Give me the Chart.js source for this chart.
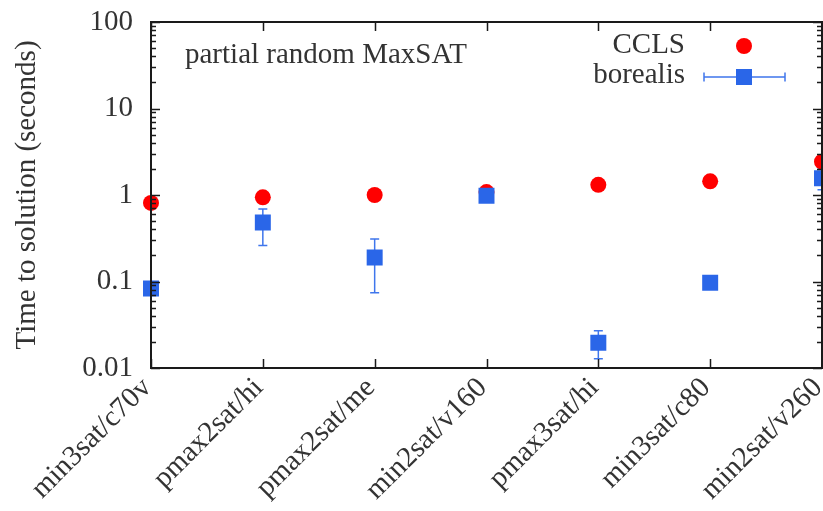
<!DOCTYPE html>
<html>
<head>
<meta charset="utf-8">
<script src="https://cdn.jsdelivr.net/npm/chart.js@4"></script>
<style>
  html, body { margin: 0; padding: 0; background: #fff; }
  #wrap { width: 823px; height: 511px; position: relative; }
</style>
</head>
<body>
<div id="wrap"><canvas id="c"></canvas></div>
<script>
const categories = ["min3sat/c70v", "pmax2sat/hi", "pmax2sat/me", "min2sat/v160", "pmax3sat/hi", "min3sat/c80", "min2sat/v260"];
const cclsTimes = [0.81, 0.94, 1.0, 1.08, 1.31, 1.44, 2.43];
const borealisTimes = [0.083, 0.48, 0.19, 0.98, 0.0196, 0.097, 1.56];
const borealisLow = [0.08, 0.26, 0.074, 0.97, 0.0128, 0.095, 1.15];
const borealisHigh = [0.087, 0.69, 0.31, 1.0, 0.027, 0.1, 2.0];
const yTickValues = [0.01, 0.1, 1, 10, 100];
const yTickLabels = ["0.01", "0.1", "1", "10", "100"];

const FONT = "'Liberation Serif', 'Times New Roman', serif";
const FONT_SIZE = 29;
const INK = "#333333";
const FRAME = "#1a1a1a";
const RED = "#ff0000";
const BLUE = "#2a66e8";
const BAR_BLUE = "#3f76ec";

// error bars behind the squares
const errorBarPlugin = {
  id: "errorBarPlugin",
  beforeDatasetsDraw(c) {
    const { ctx, scales } = c;
    const x = scales.x, y = scales.y;
    ctx.save();
    ctx.strokeStyle = BAR_BLUE;
    ctx.lineWidth = 1.5;
    borealisTimes.forEach((v, i) => {
      const px = x.getPixelForValue(i);
      const y1 = y.getPixelForValue(borealisLow[i]);
      const y2 = y.getPixelForValue(borealisHigh[i]);
      ctx.beginPath();
      ctx.moveTo(px, y1);
      ctx.lineTo(px, y2);
      ctx.moveTo(px - 4.5, y1);
      ctx.lineTo(px + 4.5, y1);
      ctx.moveTo(px - 4.5, y2);
      ctx.lineTo(px + 4.5, y2);
      ctx.stroke();
    });
    ctx.restore();
  }
};

// gnuplot-like box with inward ticks on all four sides
const framePlugin = {
  id: "framePlugin",
  afterDatasetsDraw(c) {
    const { ctx, chartArea, scales } = c;
    const { left, right, top, bottom } = chartArea;
    const x = scales.x, y = scales.y;
    ctx.save();
    ctx.strokeStyle = FRAME;
    ctx.lineWidth = 1.5;
    ctx.beginPath();
    for (let e = -2; e <= 2; e++) {
      for (let m = 1; m <= 9; m++) {
        const v = m * Math.pow(10, e);
        if (v > 100 + 1e-9) continue;
        const py = Math.round(y.getPixelForValue(v)) + 0.5;
        const len = m === 1 ? 9 : 5;
        ctx.moveTo(left, py); ctx.lineTo(left + len, py);
        ctx.moveTo(right, py); ctx.lineTo(right - len, py);
      }
    }
    categories.forEach((_, i) => {
      const px = Math.round(x.getPixelForValue(i)) + 0.5;
      ctx.moveTo(px, bottom); ctx.lineTo(px, bottom - 9);
      ctx.moveTo(px, top); ctx.lineTo(px, top + 9);
    });
    ctx.stroke();
    ctx.lineWidth = 2;
    ctx.strokeRect(left, top, right - left, bottom - top);
    ctx.restore();
  }
};

// caption and key in the upper part of the plot
const keyPlugin = {
  id: "keyPlugin",
  afterDraw(c) {
    const { ctx } = c;
    ctx.save();
    ctx.fillStyle = INK;
    ctx.font = FONT_SIZE + "px " + FONT;
    ctx.textBaseline = "alphabetic";
    ctx.textAlign = "left";
    ctx.fillText("partial random MaxSAT", 185, 63);

    ctx.textAlign = "right";
    ctx.fillText("CCLS", 685, 53);
    ctx.fillText("borealis", 685, 83);

    ctx.fillStyle = RED;
    ctx.beginPath();
    ctx.arc(744, 46, 8, 0, Math.PI * 2);
    ctx.fill();

    ctx.strokeStyle = BAR_BLUE;
    ctx.lineWidth = 1.5;
    ctx.beginPath();
    ctx.moveTo(704, 77); ctx.lineTo(785, 77);
    ctx.moveTo(704, 72.5); ctx.lineTo(704, 81.5);
    ctx.moveTo(785, 72.5); ctx.lineTo(785, 81.5);
    ctx.stroke();
    ctx.fillStyle = BLUE;
    ctx.fillRect(736, 69, 16, 16);
    ctx.restore();
  }
};

new Chart(document.getElementById("c"), {
  type: "line",
  data: {
    labels: categories,
    datasets: [
      {
        label: "CCLS",
        data: cclsTimes,
        showLine: false,
        order: 1,
        pointStyle: "circle",
        pointRadius: 8,
        pointBorderWidth: 0,
        pointBackgroundColor: RED,
        pointBorderColor: RED
      },
      {
        label: "borealis",
        data: borealisTimes,
        showLine: false,
        order: 0,
        pointStyle: "rect",
        pointRadius: 11.3,
        pointBorderWidth: 0,
        pointBackgroundColor: BLUE,
        pointBorderColor: BLUE
      }
    ]
  },
  options: {
    responsive: true,
    maintainAspectRatio: false,
    animation: false,
    layout: { autoPadding: false, padding: { top: 22, right: 1, left: 0, bottom: 0 } },
    plugins: {
      legend: { display: false },
      tooltip: { enabled: false }
    },
    scales: {
      x: {
        type: "category",
        offset: false,
        grid: { display: false },
        border: { display: false },
        ticks: {
          color: INK,
          font: { family: FONT, size: FONT_SIZE },
          minRotation: 45,
          maxRotation: 45,
          autoSkip: false,
          padding: -5,
          labelOffset: -4
        },
        afterFit(scale) {
          scale.height = 143;
          scale.paddingLeft = 0;
          scale.paddingRight = 0;
        }
      },
      y: {
        type: "logarithmic",
        min: 0.01,
        max: 100,
        grid: { display: false, drawTicks: false },
        border: { display: false },
        ticks: {
          color: INK,
          font: { family: FONT, size: FONT_SIZE },
          padding: 18,
          autoSkip: false,
          callback: (value) => yTickLabels[yTickValues.indexOf(value)]
        },
        afterBuildTicks(scale) {
          scale.ticks = yTickValues.map(value => ({ value }));
        },
        title: {
          display: true,
          text: "Time to solution (seconds)",
          color: INK,
          font: { family: FONT, size: FONT_SIZE },
          padding: { top: 10, bottom: 0 }
        },
        afterFit(scale) {
          scale.width = 151;
          scale.paddingTop = 0;
          scale.paddingBottom = 0;
        }
      }
    }
  },
  plugins: [errorBarPlugin, framePlugin, keyPlugin]
});
</script>
</body>
</html>
